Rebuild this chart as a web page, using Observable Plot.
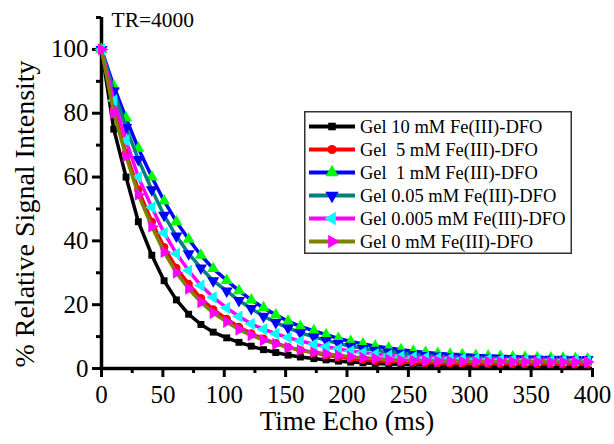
<!DOCTYPE html>
<html><head><meta charset="utf-8">
<script src="https://cdn.jsdelivr.net/npm/d3@7"></script>
<script src="https://cdn.jsdelivr.net/npm/@observablehq/plot@0.6"></script>
<style>
body{margin:0;background:#fff}
#wrap{position:relative;width:614px;height:444px;font-family:"Liberation Serif","Times New Roman",Times,serif}
#wrap svg text{font-family:"Liberation Serif","Times New Roman",Times,serif}
#legend{position:absolute;left:304px;top:111px}
</style>
</head><body><div id="wrap"></div>
<script>
// ---- data ----
const echoTimes = [0,10,20,30,41,51,61,71,81,91,102,112,122,132,142,152,162,173,183,193,203,213,223,234,244,254,264,274,284,294,305,315,325,335,345,355,366,376,386,396];
const seriesNames = ["Gel 10 mM Fe(III)-DFO","Gel  5 mM Fe(III)-DFO","Gel  1 mM Fe(III)-DFO","Gel 0.05 mM Fe(III)-DFO","Gel 0.005 mM Fe(III)-DFO","Gel 0 mM Fe(III)-DFO"];
const gel10   = [100,75,60,46,35.5,27.5,21.5,17,13.8,11.4,9.6,8.2,7.0,5.9,5.0,4.2,3.6,3.1,2.7,2.3,2.0,1.8,1.6,1.4,1.3,1.2,1.1,1.0,1.0,0.9,0.9,0.9,0.8,0.8,0.8,0.8,0.7,0.7,0.7,0.7];
const gel5    = [100,81,67.5,56,46,38,31.5,26.5,22,18.5,15.5,13,11,9.3,7.9,6.7,5.7,4.9,4.2,3.6,3.1,2.7,2.4,2.2,2.0,1.9,1.8,1.7,1.6,1.6,1.5,1.5,1.5,1.4,1.4,1.4,1.4,1.3,1.3,1.3];
const gel1    = [100,88.5,78.5,69,60,52.5,46,40.5,35.5,31.3,27.6,24.4,21.5,19,16.8,14.8,13.2,11.8,10.6,9.4,8.5,7.7,7.0,6.4,5.9,5.4,5.0,4.7,4.5,4.3,4.1,3.9,3.8,3.6,3.5,3.4,3.3,3.2,3.1,3.0];
const gel005  = [100,87,75.5,65.5,56,48,41.5,36,31.5,27.5,24.3,21.3,18.8,16.4,14.4,12.7,11.2,9.9,8.8,7.8,7.0,6.3,5.7,5.2,4.8,4.4,4.1,3.9,3.7,3.5,3.4,3.3,3.2,3.1,3.0,3.0,2.9,2.9,2.8,2.8];
const gel0005 = [100,84,71.5,60,50.5,42.5,36,30.7,26,22.3,19,16.3,14,12.3,10.9,9.7,8.6,7.6,6.8,6.1,5.5,5.0,4.5,4.1,3.8,3.6,3.4,3.3,3.2,3.1,3.0,2.9,2.8,2.8,2.7,2.7,2.6,2.6,2.6,2.5];
const gel0    = [100,80,66.5,54.5,44.5,36.5,30,25,20.8,17.4,14.6,12.2,10.4,8.9,7.7,6.6,5.8,5.1,4.6,4.1,3.7,3.4,3.1,2.8,2.6,2.5,2.4,2.3,2.3,2.2,2.2,2.2,2.1,2.1,2.1,2.1,2.0,2.0,2.0,2.0];
const seriesValues = [gel10, gel5, gel1, gel005, gel0005, gel0];
const xMajorTicks = [0,50,100,150,200,250,300,350,400];
const xMinorTicks = [25,75,125,175,225,275,325,375];
const yMajorTicks = [0,20,40,60,80,100];
const yMinorTicks = [10,30,50,70,90,110];
const xTitle = "Time Echo (ms)";
const yTitle = "% Relative Signal Intensity";
const noteText = "TR=4000";

// ---- styles ----
const serif = '"Liberation Serif","Times New Roman",Times,serif';
const lineColors   = ["#000000","#ff0000","#0000ff","#008080","#ff00ff","#808000"];
const markerColors = ["#000000","#ff0000","#00ff00","#0000ff","#00ffff","#ff00ff"];
const sq3 = Math.sqrt(3);
function tri(dir){
  return {draw(ctx, size){
    const y = Math.sqrt(size/(sq3*3));
    let p;
    if (dir === "up") p = [[0,-2*y],[-sq3*y,y],[sq3*y,y]];
    else if (dir === "down") p = [[0,2*y],[-sq3*y,-y],[sq3*y,-y]];
    else if (dir === "left") p = [[-2*y,0],[y,-sq3*y],[y,sq3*y]];
    else p = [[2*y,0],[-y,-sq3*y],[-y,sq3*y]];
    ctx.moveTo(p[0][0],p[0][1]); ctx.lineTo(p[1][0],p[1][1]); ctx.lineTo(p[2][0],p[2][1]); ctx.closePath();
  }};
}
const markerSymbols = [d3.symbolSquare, d3.symbolCircle, tri("up"), tri("down"), tri("left"), tri("right")];
const markerR = [3.9, 4.2, 4.5, 4.5, 4.5, 4.5];

// ---- table ----
const rows = [];
seriesNames.forEach((s, i) => seriesValues[i].forEach((v, j) => rows.push({series: s, te: echoTimes[j], v})));

const marks = [
  Plot.axisY(yMajorTicks, {tickSize: 9, tickPadding: 4, strokeWidth: 3, fontSize: 25, label: null}),
  Plot.axisY(yMinorTicks, {tickSize: 5, strokeWidth: 3, tickFormat: () => "", label: null}),
  Plot.axisX(xMajorTicks, {tickSize: 9, tickPadding: 8, strokeWidth: 3, fontSize: 25, label: null}),
  Plot.axisX(xMinorTicks, {tickSize: 5, strokeWidth: 3, tickFormat: () => "", label: null}),
  Plot.ruleX([0], {strokeWidth: 3.5}),
  Plot.ruleY([0], {strokeWidth: 3.5}),
  Plot.text([xTitle], {frameAnchor: "bottom", lineAnchor: "middle", textAnchor: "middle", dy: 53, fontSize: 27}),
  Plot.text([yTitle], {frameAnchor: "left", rotate: -90, lineAnchor: "middle", textAnchor: "middle", dx: -76, dy: 21, fontSize: 28}),
  Plot.text([noteText], {frameAnchor: "top-left", textAnchor: "start", lineAnchor: "middle", dx: 10, dy: 3, fontSize: 21.5})
];
seriesNames.forEach((s, i) => {
  const d = rows.filter(r => r.series === s);
  marks.push(Plot.line(d, {x: "te", y: "v", stroke: lineColors[i], strokeWidth: 3.5}));
  marks.push(Plot.dot(d, {x: "te", y: "v", symbol: markerSymbols[i], r: markerR[i], fill: markerColors[i], stroke: "none"}));
});

const chart = Plot.plot({
  width: 614, height: 444,
  marginLeft: 101, marginRight: 22, marginTop: 17, marginBottom: 76,
  x: {domain: [0, 400]},
  y: {domain: [0, 110]},
  style: {fontFamily: serif, background: "white", color: "black", overflow: "visible"},
  marks
});
const wrap = document.getElementById("wrap");
wrap.appendChild(chart);

// ---- legend ----
const lw = 268, lh = 143, rowH = 23;
const leg = d3.select(wrap).append("div").attr("id", "legend")
  .append("svg").attr("width", lw).attr("height", lh)
  .attr("font-family", serif);
leg.append("rect").attr("x", 0.75).attr("y", 0.75).attr("width", lw - 1.5).attr("height", lh - 1.5)
  .attr("fill", "white").attr("stroke", "#333").attr("stroke-width", 1.5);
seriesNames.forEach((s, i) => {
  const g = leg.append("g").attr("transform", `translate(0,${15.5 + i * rowH})`);
  g.append("line").attr("x1", 5).attr("x2", 51).attr("stroke", lineColors[i]).attr("stroke-width", 4);
  g.append("path").attr("transform", "translate(28,0)")
    .attr("d", d3.symbol(markerSymbols[i], Math.PI * markerR[i] * markerR[i] * 1.2)())
    .attr("fill", markerColors[i]);
  g.append("text").attr("x", 56).attr("y", 0).attr("dy", "0.35em")
    .attr("font-size", 18.5).style("white-space", "pre").text(s);
});
</script>
</body></html>
